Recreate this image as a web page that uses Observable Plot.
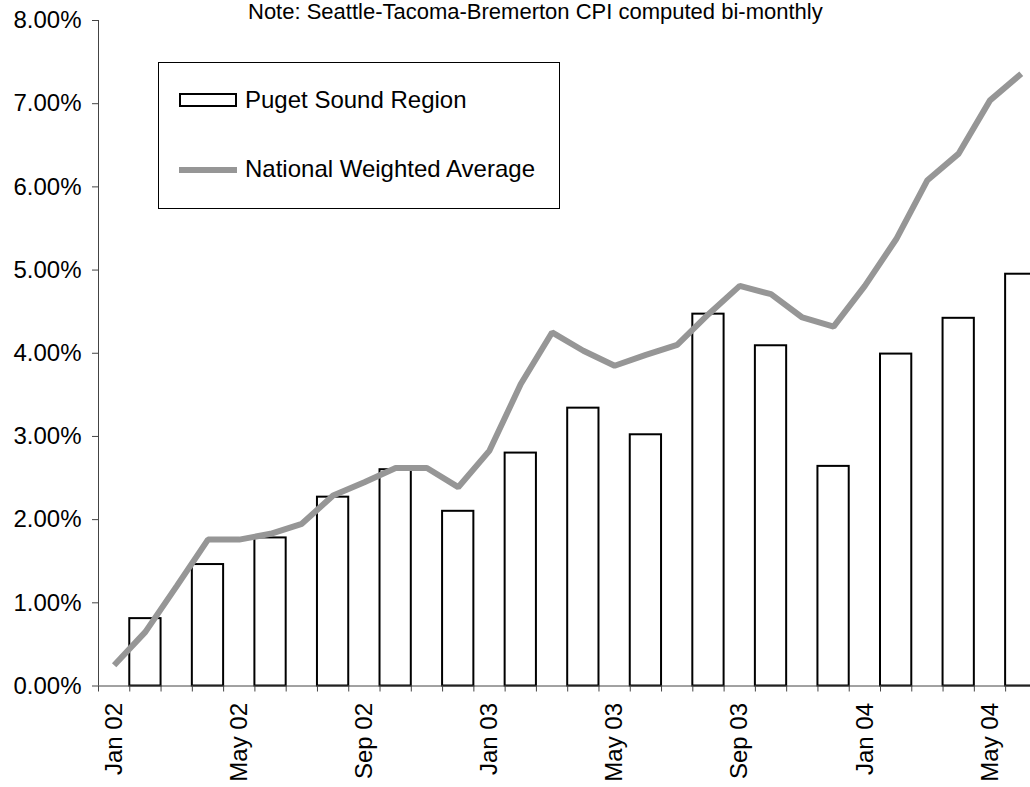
<!DOCTYPE html>
<html>
<head>
<meta charset="utf-8">
<script src="https://cdn.jsdelivr.net/npm/d3@7"></script>
<script src="https://cdn.jsdelivr.net/npm/@observablehq/plot@0.6"></script>
<style>
  html, body { margin: 0; padding: 0; background: #fff; }
  #wrap { position: relative; width: 1030px; height: 787px; overflow: hidden; font-family: "Liberation Sans", Arial, sans-serif; }
  #note { position: absolute; left: 248px; top: 0px; font-size: 22px; line-height: 24px; white-space: nowrap; color: #000; }
  #legend { position: absolute; left: 158px; top: 62px; width: 402px; height: 147px; border: 1px solid #000; background: #fff; box-sizing: border-box; }
  .item { position: absolute; left: 20px; font-size: 24px; line-height: 24px; white-space: nowrap; color: #000; }
  .swatch-bar { position: absolute; left: 20px; width: 58px; height: 14px; border: 2px solid #000; box-sizing: border-box; background: #fff; }
  .swatch-line { position: absolute; left: 20px; width: 58px; height: 6px; background: #969696; }
</style>
</head>
<body>
<div id="wrap">
  <div id="chart"></div>
  <div id="note">Note: Seattle-Tacoma-Bremerton CPI computed bi-monthly</div>
  <div id="legend">
    <div class="swatch-bar" style="top:30px"></div>
    <div class="item" style="left:86px; top:25px">Puget Sound Region</div>
    <div class="swatch-line" style="top:104px"></div>
    <div class="item" style="left:86px; top:94px">National Weighted Average</div>
  </div>
</div>
<script>
// Monthly categories, Jan 2002 through Jun 2004
const months = [
  "Jan 02","Feb 02","Mar 02","Apr 02","May 02","Jun 02","Jul 02","Aug 02","Sep 02","Oct 02","Nov 02","Dec 02",
  "Jan 03","Feb 03","Mar 03","Apr 03","May 03","Jun 03","Jul 03","Aug 03","Sep 03","Oct 03","Nov 03","Dec 03",
  "Jan 04","Feb 04","Mar 04","Apr 04","May 04","Jun 04"
];

// National weighted average, year-over-year change (%), monthly
const nationalValues = [
  0.25, 0.65, 1.20, 1.76, 1.76, 1.83, 1.95, 2.29, 2.45, 2.62, 2.62, 2.39,
  2.83, 3.63, 4.25, 4.03, 3.85, 3.98, 4.10, 4.47, 4.81, 4.71, 4.43, 4.32,
  4.81, 5.37, 6.08, 6.40, 7.04, 7.36
];

// Puget Sound region, computed bi-monthly
const pugetMonths = [
  "Feb 02","Apr 02","Jun 02","Aug 02","Oct 02","Dec 02",
  "Feb 03","Apr 03","Jun 03","Aug 03","Oct 03","Dec 03",
  "Feb 04","Apr 04","Jun 04"
];
const pugetValues = [
  0.81, 1.46, 1.78, 2.27, 2.60, 2.10,
  2.80, 3.34, 3.02, 4.47, 4.09, 2.64,
  3.99, 4.42, 4.95
];

// Labelled months on the category axis
const labelMonths = ["Jan 02","May 02","Sep 02","Jan 03","May 03","Sep 03","Jan 04","May 04"];

const yTicks = [0, 1, 2, 3, 4, 5, 6, 7, 8];

const national = months.map((m, i) => ({month: m, i, value: nationalValues[i]}));
const puget = pugetMonths.map((m, k) => ({month: m, i: months.indexOf(m), value: pugetValues[k]}));

const axisColor = "#444";
const bandWidth = 31.28;

const chart = Plot.plot({
  width: 1030,
  height: 787,
  marginTop: 20,
  marginBottom: 101.5,
  marginLeft: 98,
  marginRight: 0,
  style: {fontFamily: "'Liberation Sans', Arial, sans-serif", fontSize: "24px", color: "#000", background: "#fff"},
  x: {type: "linear", domain: [0, months.length], range: [98, 98 + bandWidth * months.length]},
  y: {domain: [0, 8]},
  marks: [
    Plot.rect(puget, {
      x1: d => d.i, x2: d => d.i + 1, y1: 0, y2: "value",
      fill: "#fff", stroke: "#000", strokeWidth: 2
    }),
    Plot.line(national, {
      x: d => d.i + 0.5, y: "value",
      stroke: "#969696", strokeWidth: 6, strokeLinejoin: "miter", strokeLinecap: "butt"
    }),
    Plot.ruleX([0], {stroke: axisColor, strokeWidth: 1}),
    Plot.ruleY([0], {stroke: axisColor, strokeWidth: 1}),
    Plot.axisY({
      ticks: yTicks, tickSize: 6, tickPadding: 11, label: null,
      tickFormat: d => d.toFixed(2) + "%", stroke: axisColor, fill: "#000"
    }),
    Plot.axisX({
      ticks: d3.range(months.length + 1), tickSize: 6, label: null,
      tickFormat: () => "", stroke: axisColor
    }),
    Plot.axisX({
      ticks: labelMonths.map(m => months.indexOf(m) + 0.5), tickSize: 0, tickPadding: 17,
      tickRotate: -90, label: null, fill: "#000",
      tickFormat: d => months[Math.round(d - 0.5)]
    })
  ]
});

document.getElementById("chart").appendChild(chart);
</script>
</body>
</html>
